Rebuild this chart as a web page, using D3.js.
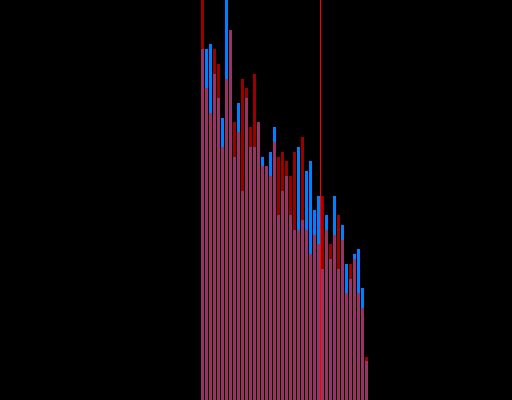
<!DOCTYPE html>
<html>
<head>
<meta charset="utf-8">
<script src="https://cdn.jsdelivr.net/npm/d3@7"></script>
<style>
  html, body { margin: 0; padding: 0; background: #000; }
  svg { display: block; }
</style>
</head>
<body>
<div id="chart"></div>
<script>
const width = 512;
const height = 400;

// bin start values (each bin is 1 unit wide)
const binStarts = d3.range(50, 92);

const blueCounts = [351, 351, 356, 326, 302, 282, 400, 370, 243, 297, 209, 302, 253, 253,
  278, 243, 234, 248, 273, 185, 209, 224, 185, 170, 253, 180, 229, 239, 190, 204, 131,
  185, 141, 204, 131, 175, 136, 121, 146, 151, 112, 39];

const redCounts = [400, 312, 287, 351, 336, 253, 321, 370, 278, 268, 321, 312, 273, 326,
  278, 234, 234, 224, 258, 243, 248, 239, 224, 248, 170, 263, 170, 146, 165, 156, 204,
  170, 156, 165, 185, 160, 107, 136, 141, 107, 92, 43];

const markerValue = 80;

const colors = {
  blue: "#0080ff",
  red: "#ff0000",
};

const x = d3.scaleLinear().domain([0, 128]).range([0, width]);
const y = d3.scaleLinear().domain([0, 400]).range([height, 0]);

const svg = d3
  .select("#chart")
  .append("svg")
  .attr("width", width)
  .attr("height", height)
  .style("background", "#000");

const drawBars = (counts, color, opacity) => {
  svg
    .append("g")
    .attr("fill", color)
    .attr("fill-opacity", opacity)
    .selectAll("rect")
    .data(binStarts.map((b, i) => ({ x0: b, x1: b + 1, count: counts[i] })))
    .join("rect")
    .attr("x", (d) => x(d.x0) + 1)
    .attr("width", (d) => x(d.x1) - x(d.x0) - 1)
    .attr("y", (d) => y(d.count))
    .attr("height", (d) => y(0) - y(d.count));
};

drawBars(blueCounts, colors.blue, 1);
drawBars(redCounts, colors.red, 0.6);

// marker line
svg
  .append("line")
  .attr("x1", x(markerValue) + 0.5)
  .attr("x2", x(markerValue) + 0.5)
  .attr("y1", 0)
  .attr("y2", height)
  .attr("stroke", colors.red)
  .attr("stroke-width", 1);
</script>
</body>
</html>
